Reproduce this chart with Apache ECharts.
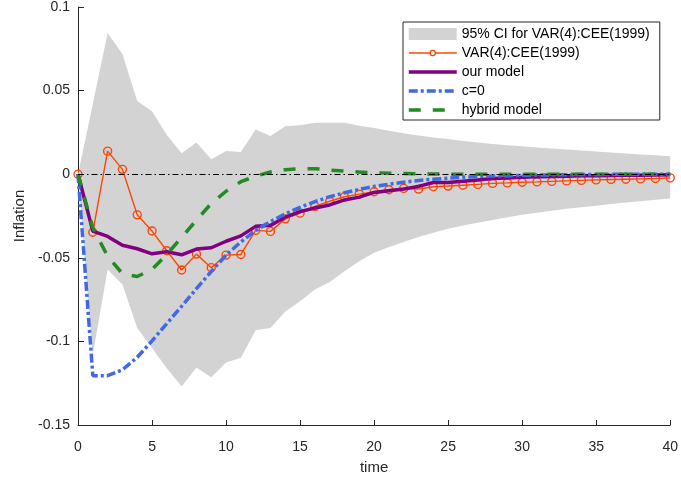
<!DOCTYPE html>
<html>
<head>
<meta charset="utf-8">
<script src="https://cdn.jsdelivr.net/npm/echarts@6/dist/echarts.min.js"></script>
<style>
html, body { margin: 0; padding: 0; background: #fff; }
#chart { width: 681px; height: 480px; }
</style>
</head>
<body>
<div id="chart"></div>
<script>
// Impulse responses of inflation, periods 0..40
const periods = [0,1,2,3,4,5,6,7,8,9,10,11,12,13,14,15,16,17,18,19,20,
                 21,22,23,24,25,26,27,28,29,30,31,32,33,34,35,36,37,38,39,40];

const ciUpper = [0, 0.042, 0.0844, 0.0719, 0.0438, 0.0376, 0.0234, 0.0125, 0.019, 0.009, 0.0139,
                 0.0133, 0.0268, 0.0228, 0.0287, 0.0293, 0.0307, 0.0307, 0.0307, 0.029, 0.0276,
                 0.026, 0.0245, 0.0232, 0.022, 0.021, 0.0199, 0.0189, 0.018, 0.0173, 0.0167,
                 0.016, 0.0154, 0.0147, 0.0141, 0.0136, 0.013, 0.0124, 0.0118, 0.0113, 0.0108];

const ciLower = [0, -0.108, -0.057, -0.066, -0.092, -0.104, -0.116, -0.127, -0.1156, -0.1215, -0.1126,
                 -0.1098, -0.0934, -0.092, -0.0821, -0.076, -0.069, -0.0645, -0.058, -0.052, -0.047,
                 -0.0435, -0.0405, -0.0375, -0.035, -0.0326, -0.0307, -0.029, -0.0274, -0.0258, -0.0243,
                 -0.023, -0.0218, -0.0207, -0.0197, -0.0188, -0.0178, -0.017, -0.0162, -0.0153, -0.0145];

const varCee = [0, -0.0347, 0.0138, 0.0029, -0.0243, -0.034, -0.0458, -0.0573, -0.0478, -0.0559, -0.0484,
                -0.048, -0.0336, -0.0342, -0.0267, -0.0233, -0.0192, -0.0162, -0.0135, -0.0119, -0.0105,
                -0.0093, -0.0085, -0.0089, -0.0075, -0.0071, -0.0066, -0.0061, -0.0055, -0.0052, -0.0048,
                -0.0046, -0.0043, -0.004, -0.0037, -0.0034, -0.0032, -0.003, -0.0028, -0.0026, -0.0022];

const ourModel = [0, -0.034, -0.0372, -0.0425, -0.0446, -0.0476, -0.0464, -0.0482, -0.0448, -0.044, -0.0401,
                  -0.0369, -0.0312, -0.0306, -0.0257, -0.0224, -0.0202, -0.0184, -0.0154, -0.0137, -0.0109,
                  -0.0099, -0.0089, -0.0073, -0.005, -0.005, -0.0042, -0.0034, -0.0026, -0.0022, -0.0018,
                  -0.0016, -0.0014, -0.0012, -0.001, -0.0009, -0.0008, -0.0007, -0.0006, -0.0005, -0.0004];

const cZero = [0, -0.1205, -0.1205, -0.117, -0.1095, -0.0997, -0.0893, -0.079, -0.0685, -0.0582, -0.0484,
               -0.0405, -0.0336, -0.0283, -0.0237, -0.0198, -0.0164, -0.0135, -0.0111, -0.0091, -0.0073,
               -0.006, -0.0048, -0.0038, -0.003, -0.0024, -0.0018, -0.0014, -0.0011, -0.0009, -0.0007,
               -0.0005, -0.0004, -0.0003, -0.0002, -0.0002, -0.0001, -0.0001, -0.0001, 0, 0];

const hybrid = [0, -0.032, -0.049, -0.0595, -0.0612, -0.057, -0.048, -0.0378, -0.0275, -0.0175, -0.0102,
                -0.0045, -0.0012, 0.0013, 0.0027, 0.0033, 0.0033, 0.0025, 0.0019, 0.0013, 0.0009,
                0.0006, 0.0004, 0.0002, 0.0001, 0, 0, 0, 0, 0, 0,
                0, 0, 0, 0, 0, 0, 0, 0, 0, 0];

const yTickLabels = { '0.1': '0.1', '0.05': '0.05', '0': '0', '-0.05': '-0.05', '-0.1': '-0.1', '-0.15': '-0.15' };

const seriesNames = ['95% CI for VAR(4):CEE(1999)', 'VAR(4):CEE(1999)', 'our model', 'c=0', 'hybrid model'];

const pair = arr => periods.map((t, i) => [t, arr[i]]);

const FONT = 'Liberation Sans, Arial, Helvetica, sans-serif';
const AXIS = '#262626';
const NO_MARKER = { color: 'rgba(0,0,0,0)', borderColor: 'rgba(0,0,0,0)', borderWidth: 0 };

// legend key for the VAR line: thin line with a small open circle in the middle (48 x 12 box)
const VAR_KEY = 'path://M0 0 L0 0 Z M48 12 L48 12 Z ' +
  'M0 5.3 L20.9 5.3 L20.9 6.7 L0 6.7 Z M27.1 5.3 L48 5.3 L48 6.7 L27.1 6.7 Z ' +
  'M20.7 6 A3.3 3.3 0 1 1 27.3 6 A3.3 3.3 0 1 1 20.7 6 Z ' +
  'M22.1 6 A1.9 1.9 0 1 0 25.9 6 A1.9 1.9 0 1 0 22.1 6 Z';

const chart = echarts.init(document.getElementById('chart'), null, { renderer: 'canvas' });

chart.setOption({
  animation: false,
  backgroundColor: '#fff',
  textStyle: { fontFamily: FONT },
  grid: { left: 78, right: 5, top: 6, bottom: 53, containLabel: false },
  legend: {
    orient: 'vertical',
    left: 403,
    top: 22,
    itemWidth: 48,
    itemHeight: 12,
    itemGap: 3,
    padding: [4, 10, 2, 4],
    backgroundColor: '#fff',
    borderColor: AXIS,
    borderWidth: 1,
    borderRadius: 0,
    selectedMode: false,
    textStyle: { fontFamily: FONT, fontSize: 14, color: '#000', lineHeight: 16 },
    data: [
      { name: seriesNames[0], icon: 'rect', itemStyle: { color: '#d3d3d3', opacity: 1 } },
      { name: seriesNames[1], icon: VAR_KEY, itemStyle: { color: '#ff4500', borderWidth: 0, opacity: 1 } },
      { name: seriesNames[2], itemStyle: NO_MARKER, lineStyle: { width: 3.5 } },
      { name: seriesNames[3], itemStyle: NO_MARKER, lineStyle: { width: 3.5 } },
      { name: seriesNames[4], itemStyle: NO_MARKER, lineStyle: { width: 3.5 } }
    ]
  },
  xAxis: {
    type: 'value',
    min: 0, max: 40, interval: 5,
    name: 'time',
    nameLocation: 'middle',
    nameGap: 35,
    nameTextStyle: { fontFamily: FONT, fontSize: 15, color: AXIS },
    axisLine: { show: true, onZero: false, lineStyle: { color: AXIS, width: 1 } },
    axisTick: { show: true, inside: true, length: 5, lineStyle: { color: AXIS } },
    axisLabel: { fontFamily: FONT, fontSize: 14, color: AXIS, margin: 15 },
    splitLine: { show: false }
  },
  yAxis: {
    type: 'value',
    min: -0.15, max: 0.1, interval: 0.05,
    name: 'Inflation',
    nameLocation: 'middle',
    nameGap: 48,
    nameTextStyle: { fontFamily: FONT, fontSize: 15, color: AXIS },
    axisLine: { show: true, onZero: false, lineStyle: { color: AXIS, width: 1 } },
    axisTick: { show: true, inside: true, length: 6, lineStyle: { color: AXIS } },
    axisLabel: {
      fontFamily: FONT, fontSize: 14, color: AXIS, margin: 8,
      formatter: v => yTickLabels[String(Math.round(v * 100) / 100)] ?? String(v)
    },
    splitLine: { show: false }
  },
  series: [
    {
      // confidence band: one polygon, upper edge forward then lower edge back
      name: seriesNames[0],
      type: 'custom',
      data: periods.map((t, i) => [t, ciLower[i], ciUpper[i]]),
      encode: { x: 0, y: [1, 2] },
      itemStyle: { color: '#d3d3d3' },
      silent: true,
      z: 1,
      renderItem: (params, api) => {
        if (params.dataIndex !== 0) return null;
        const upper = periods.map((t, i) => api.coord([t, ciUpper[i]]));
        const lower = periods.map((t, i) => api.coord([t, ciLower[i]])).reverse();
        return {
          type: 'polygon',
          shape: { points: upper.concat(lower) },
          style: { fill: '#d3d3d3', stroke: null },
          silent: true
        };
      }
    },
    {
      name: seriesNames[1],
      type: 'line',
      data: pair(varCee),
      symbol: 'circle',
      symbolSize: 8,
      showAllSymbol: true,
      color: '#ff4500',
      lineStyle: { color: '#ff4500', width: 1.4 },
      itemStyle: { color: 'rgba(255,255,255,0)', borderColor: '#ff4500', borderWidth: 1.4 },
      z: 3
    },
    {
      name: seriesNames[2],
      type: 'line',
      data: pair(ourModel),
      symbol: 'none',
      color: '#800080',
      lineStyle: { color: '#800080', width: 3.5 },
      z: 4
    },
    {
      name: seriesNames[3],
      type: 'line',
      data: pair(cZero),
      symbol: 'none',
      color: '#4169e1',
      lineStyle: { color: '#4169e1', width: 3.5, type: [9, 3, 3, 3] },
      z: 5
    },
    {
      name: seriesNames[4],
      type: 'line',
      data: pair(hybrid),
      symbol: 'none',
      color: '#228b22',
      lineStyle: { color: '#228b22', width: 3.5, type: [12, 12] },
      z: 6,
      markLine: {
        silent: true,
        symbol: 'none',
        label: { show: false },
        lineStyle: { color: '#000', width: 1, type: [6, 3, 1.5, 3] },
        data: [{ yAxis: 0 }],
        z: 10
      }
    }
  ]
});
</script>
</body>
</html>
